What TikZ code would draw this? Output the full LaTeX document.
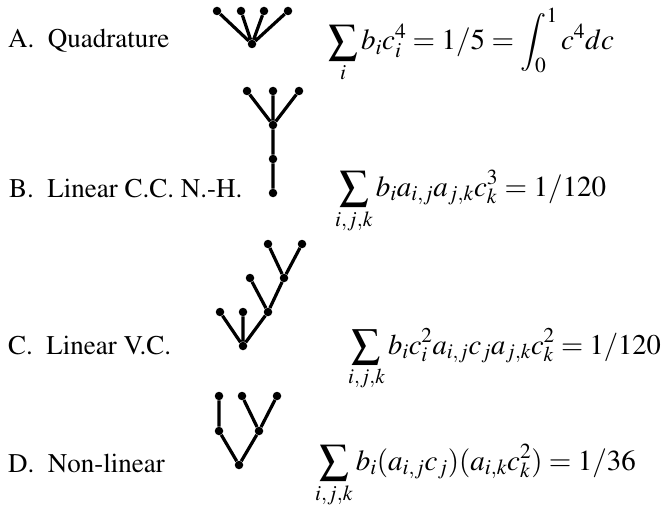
\documentclass[tikz,border=0pt]{standalone}
\usepackage{mathptmx}
\begin{document}
\begin{tikzpicture}[x=1pt,y=-1pt,
  dot/.style={circle,fill=black,inner sep=0pt,minimum size=8.5pt},
  edge/.style={line width=3.2pt},
  lbl/.style={anchor=base west,inner sep=0pt,font=\fontsize{27}{32}\fontencoding{OT1}\fontfamily{ptm}\selectfont},
  eqn/.style={anchor=base west,inner sep=0pt,font=\fontsize{29}{34}\selectfont}]
\useasboundingbox (0,0) rectangle (661,508);
% labels
\node[lbl] (la) at (8,48) {A.\enspace Quadrature};
\node[lbl] (lb) at (9,197) {B.\enspace Linear C.C. N.-H.};
\node[lbl] (lc) at (8,354) {C.\enspace Linear V.C.};
\node[lbl] (ld) at (8,472) {D.\enspace Non-linear};
% equations
\node[eqn] (ea) at (328,50) {$\displaystyle\sum_i b_i c_i^4 = 1/5 = \int_0^1 c^4 dc$};
\node[eqn] (eb) at (335,196) {$\displaystyle\sum_{i,j,k} b_i a_{i,j} a_{j,k} c_k^3 = 1/120$};
\node[eqn,font=\fontsize{28.5}{34}\selectfont] (ec) at (348,354) {$\displaystyle\sum_{i,j,k} b_i c_i^2 a_{i,j} c_j a_{j,k} c_k^2 = 1/120$};
\node[eqn] (ed) at (315,470) {$\displaystyle\sum_{i,j,k} b_i (a_{i,j} c_j)(a_{i,k} c_k^2) = 1/36$};
% tree A
\node[dot] (a0) at (252,44) {};
\node[dot] (a1) at (217,11) {};
\node[dot] (a2) at (241,11) {};
\node[dot] (a3) at (264,11) {};
\node[dot] (a4) at (288,11) {};
\draw[edge] (a0) -- (a1) (a0) -- (a2) (a0) -- (a3) (a0) -- (a4);
% tree B
\node[dot] (b1) at (247,91) {};
\node[dot] (b2) at (273,91) {};
\node[dot] (b3) at (299,91) {};
\node[dot] (b4) at (273,125) {};
\node[dot] (b5) at (273,159) {};
\node[dot] (b6) at (273,193) {};
\draw[edge] (b1) -- (b4) (b2) -- (b4) (b3) -- (b4) (b4) -- (b5) (b5) -- (b6);
% tree C
\node[dot] (c1) at (268,244) {};
\node[dot] (c2) at (302,244) {};
\node[dot] (c3) at (284,278) {};
\node[dot] (c4) at (250,278) {};
\node[dot] (c5) at (268,312) {};
\node[dot] (c6) at (220,312) {};
\node[dot] (c7) at (243,312) {};
\node[dot] (c0) at (243,346) {};
\draw[edge] (c1) -- (c3) (c2) -- (c3) (c3) -- (c5) (c4) -- (c5) (c5) -- (c0) (c6) -- (c0) (c7) -- (c0);
% tree D
\node[dot] (d1) at (219,396) {};
\node[dot] (d2) at (242,396) {};
\node[dot] (d3) at (277,396) {};
\node[dot] (d4) at (219,431) {};
\node[dot] (d5) at (259,431) {};
\node[dot] (d0) at (239,465) {};
\draw[edge] (d1) -- (d4) (d2) -- (d5) (d3) -- (d5) (d4) -- (d0) (d5) -- (d0);
\end{tikzpicture}
\end{document}
